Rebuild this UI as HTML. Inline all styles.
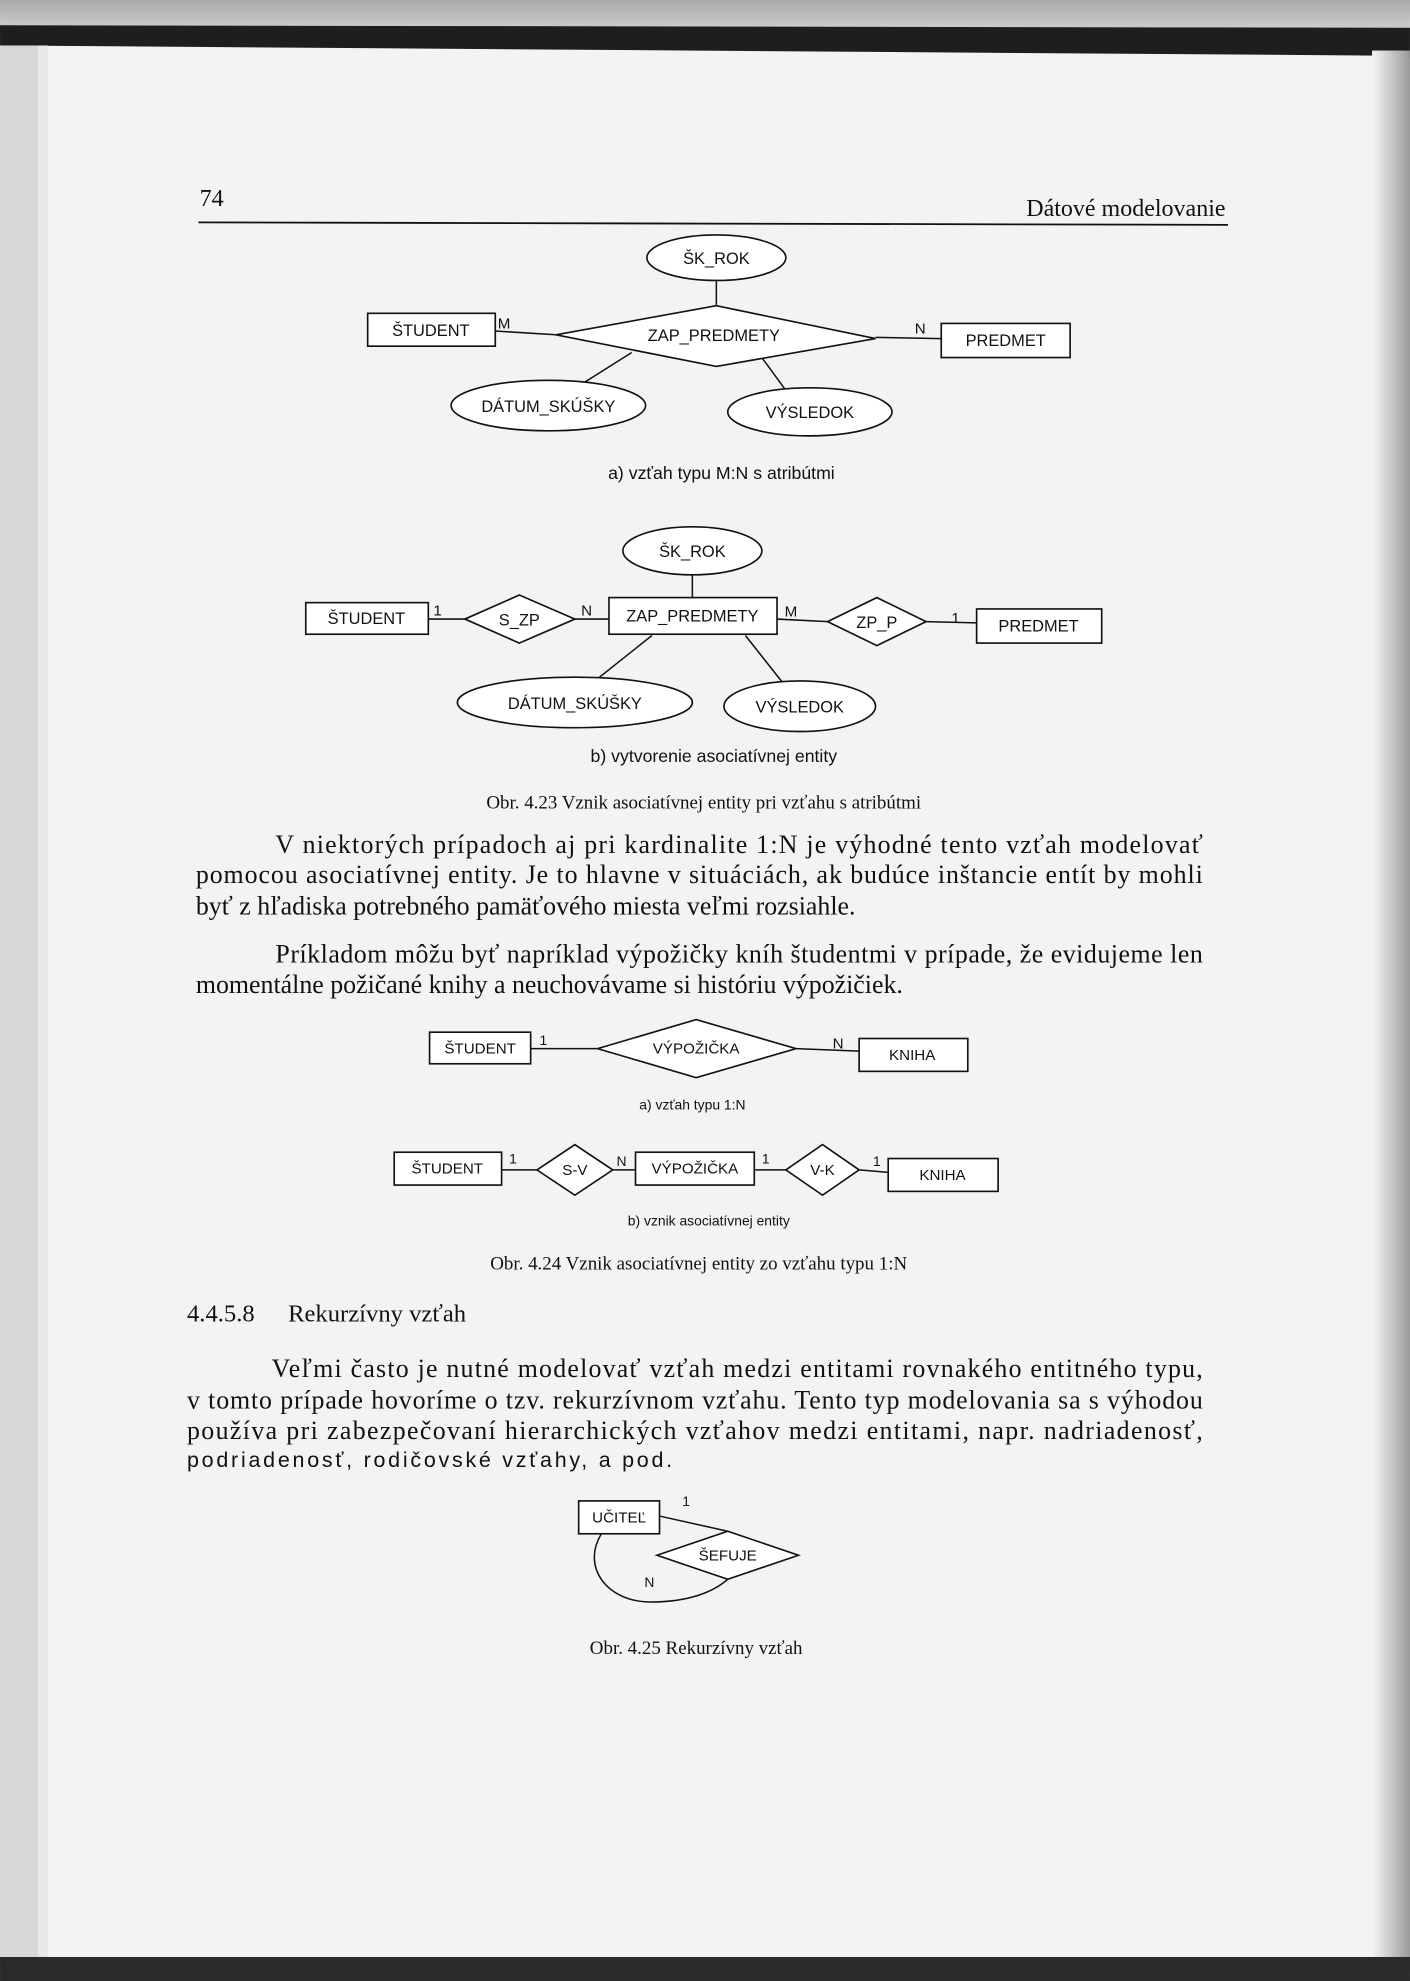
<!DOCTYPE html>
<html><head><meta charset="utf-8"><style>
html,body{margin:0;padding:0;background:#ddd}
svg{display:block}
.s{font-family:"Liberation Sans",sans-serif;fill:#111}
.r{font-family:"Liberation Serif",serif;fill:#111}
.sh{fill:#fff;stroke:#111;stroke-width:1.3}
.ln{stroke:#111;stroke-width:1.2;fill:none}
</style></head><body>
<svg width="1410" height="1981" viewBox="0 0 1116 1568" xmlns="http://www.w3.org/2000/svg">
<defs>
<linearGradient id="tg" x1="0" y1="0" x2="0" y2="1"><stop offset="0" stop-color="#a9a9a9"/><stop offset="1" stop-color="#cfcfcf"/></linearGradient>
<linearGradient id="rg" x1="0" y1="0" x2="1" y2="0"><stop offset="0" stop-color="#f4f4f4"/><stop offset="0.5" stop-color="#c8c8c8"/><stop offset="1" stop-color="#9a9a9a"/></linearGradient>
</defs>
<rect x="0" y="0" width="1116" height="1568" fill="#f3f3f3"/>
<rect x="0" y="0" width="1116" height="24" fill="url(#tg)"/>
<polygon points="0,20 1116,22 1116,46 1090,44 0,36" fill="#1e1e1e"/>
<rect x="0" y="36" width="30" height="1520" fill="#d8d8d8"/>
<rect x="30" y="36" width="8" height="1520" fill="#e8e8e8"/>
<rect x="1086" y="40" width="30" height="1520" fill="url(#rg)"/>
<rect x="0" y="1549" width="1116" height="19" fill="#2a2a2a"/>

<!-- header -->
<text class="r" x="158" y="163" font-size="19">74</text>
<text class="r" x="970" y="171" font-size="19" text-anchor="end">Dátové modelovanie</text>
<line x1="157" y1="176" x2="972" y2="178" stroke="#111" stroke-width="1.4"/>

<!-- diagram a -->
<line class="ln" x1="567" y1="222" x2="567" y2="242"/>
<line class="ln" x1="392" y1="262" x2="440" y2="265"/>
<line class="ln" x1="693" y1="267" x2="745" y2="268"/>
<line class="ln" x1="500" y1="279" x2="462" y2="303"/>
<line class="ln" x1="603" y1="283" x2="622" y2="309"/>
<ellipse class="sh" cx="567" cy="204" rx="55" ry="18"/>
<text class="s" x="567" y="209" font-size="13" text-anchor="middle">ŠK_ROK</text>
<rect class="sh" x="291" y="248" width="101" height="26"/>
<text class="s" x="341" y="266" font-size="13" text-anchor="middle">ŠTUDENT</text>
<text class="s" x="394" y="260" font-size="12">M</text>
<polygon class="sh" points="440,265 567,242 693,268 567,290"/>
<text class="s" x="565" y="270" font-size="13" text-anchor="middle">ZAP_PREDMETY</text>
<text class="s" x="724" y="264" font-size="12">N</text>
<rect class="sh" x="745" y="256" width="102" height="27"/>
<text class="s" x="796" y="274" font-size="13" text-anchor="middle">PREDMET</text>
<ellipse class="sh" cx="434" cy="321" rx="77" ry="20"/>
<text class="s" x="434" y="326" font-size="13" text-anchor="middle">DÁTUM_SKÚŠKY</text>
<ellipse class="sh" cx="641" cy="326" rx="65" ry="19"/>
<text class="s" x="641" y="331" font-size="13" text-anchor="middle">VÝSLEDOK</text>
<text class="s" x="571" y="379" font-size="14" text-anchor="middle">a) vzťah typu M:N s atribútmi</text>

<!-- diagram b -->
<line class="ln" x1="548" y1="455" x2="548" y2="473"/>
<line class="ln" x1="339" y1="490" x2="368" y2="490"/>
<line class="ln" x1="455" y1="490" x2="482" y2="490"/>
<line class="ln" x1="615" y1="490" x2="655" y2="492"/>
<line class="ln" x1="733" y1="492" x2="773" y2="493"/>
<line class="ln" x1="516" y1="503" x2="472" y2="538"/>
<line class="ln" x1="590" y1="503" x2="620" y2="541"/>
<ellipse class="sh" cx="548" cy="436" rx="55" ry="19"/>
<text class="s" x="548" y="441" font-size="13" text-anchor="middle">ŠK_ROK</text>
<rect class="sh" x="242" y="477" width="97" height="25"/>
<text class="s" x="290" y="494" font-size="13" text-anchor="middle">ŠTUDENT</text>
<text class="s" x="343" y="487" font-size="12">1</text>
<polygon class="sh" points="368,490 411,471 455,490 411,509"/>
<text class="s" x="411" y="495" font-size="13" text-anchor="middle">S_ZP</text>
<text class="s" x="460" y="487" font-size="12">N</text>
<rect class="sh" x="482" y="473" width="133" height="29"/>
<text class="s" x="548" y="492" font-size="13" text-anchor="middle">ZAP_PREDMETY</text>
<text class="s" x="621" y="488" font-size="12">M</text>
<polygon class="sh" points="655,492 694,473 733,492 694,511"/>
<text class="s" x="694" y="497" font-size="13" text-anchor="middle">ZP_P</text>
<text class="s" x="753" y="493" font-size="12">1</text>
<rect class="sh" x="773" y="482" width="99" height="27"/>
<text class="s" x="822" y="500" font-size="13" text-anchor="middle">PREDMET</text>
<ellipse class="sh" cx="455" cy="556" rx="93" ry="20"/>
<text class="s" x="455" y="561" font-size="13" text-anchor="middle">DÁTUM_SKÚŠKY</text>
<ellipse class="sh" cx="633" cy="559" rx="60" ry="20"/>
<text class="s" x="633" y="564" font-size="13" text-anchor="middle">VÝSLEDOK</text>
<text class="s" x="565" y="603" font-size="14" text-anchor="middle">b) vytvorenie asociatívnej entity</text>
<text class="r" x="557" y="640" font-size="15" text-anchor="middle">Obr. 4.23 Vznik asociatívnej entity pri vzťahu s atribútmi</text>

<!-- paragraphs -->
<g class="r" font-size="20.5">
<text x="218" y="675" textLength="734" lengthAdjust="spacing">V niektorých prípadoch aj pri kardinalite 1:N je výhodné tento vzťah modelovať</text>
<text x="155" y="699" textLength="797" lengthAdjust="spacing">pomocou asociatívnej entity. Je to hlavne v situáciách, ak budúce inštancie entít by mohli</text>
<text x="155" y="724">byť z hľadiska potrebného pamäťového miesta veľmi rozsiahle.</text>
<text x="218" y="762" textLength="734" lengthAdjust="spacing">Príkladom môžu byť napríklad výpožičky kníh študentmi v prípade, že evidujeme len</text>
<text x="155" y="786">momentálne požičané knihy a neuchovávame si históriu výpožičiek.</text>
</g>

<!-- diagram c -->
<line class="ln" x1="420" y1="830" x2="473" y2="830"/>
<line class="ln" x1="630" y1="830" x2="680" y2="832"/>
<rect class="sh" x="340" y="817" width="80" height="25"/>
<text class="s" x="380" y="834" font-size="12" text-anchor="middle">ŠTUDENT</text>
<text class="s" x="427" y="827" font-size="11">1</text>
<polygon class="sh" points="473,830 551,807 630,830 551,853"/>
<text class="s" x="551" y="834" font-size="12" text-anchor="middle">VÝPOŽIČKA</text>
<text class="s" x="659" y="830" font-size="12">N</text>
<rect class="sh" x="680" y="822" width="86" height="26"/>
<text class="s" x="722" y="839" font-size="12" text-anchor="middle">KNIHA</text>
<text class="s" x="548" y="878" font-size="11" text-anchor="middle">a) vzťah typu 1:N</text>

<line class="ln" x1="397" y1="926" x2="425" y2="926"/>
<line class="ln" x1="485" y1="926" x2="503" y2="926"/>
<line class="ln" x1="597" y1="926" x2="622" y2="926"/>
<line class="ln" x1="680" y1="926" x2="703" y2="928"/>
<rect class="sh" x="312" y="912" width="85" height="26"/>
<text class="s" x="354" y="929" font-size="12" text-anchor="middle">ŠTUDENT</text>
<text class="s" x="403" y="921" font-size="11">1</text>
<polygon class="sh" points="425,926 455,906 485,926 455,946"/>
<text class="s" x="455" y="930" font-size="12" text-anchor="middle">S-V</text>
<text class="s" x="488" y="923" font-size="11">N</text>
<rect class="sh" x="503" y="912" width="94" height="26"/>
<text class="s" x="550" y="929" font-size="12" text-anchor="middle">VÝPOŽIČKA</text>
<text class="s" x="603" y="921" font-size="11">1</text>
<polygon class="sh" points="622,926 651,906 680,926 651,946"/>
<text class="s" x="651" y="930" font-size="12" text-anchor="middle">V-K</text>
<text class="s" x="691" y="923" font-size="11">1</text>
<rect class="sh" x="703" y="917" width="87" height="26"/>
<text class="s" x="746" y="934" font-size="12" text-anchor="middle">KNIHA</text>
<text class="s" x="561" y="970" font-size="11" text-anchor="middle">b) vznik asociatívnej entity</text>
<text class="r" x="553" y="1005" font-size="15" text-anchor="middle">Obr. 4.24 Vznik asociatívnej entity zo vzťahu typu 1:N</text>

<!-- heading -->
<text class="r" x="148" y="1046" font-size="19.5">4.4.5.8</text>
<text class="r" x="228" y="1046" font-size="19.5">Rekurzívny vzťah</text>
<g class="r" font-size="20.5">
<text x="215" y="1090" textLength="737" lengthAdjust="spacing">Veľmi často je nutné modelovať vzťah medzi entitami rovnakého entitného typu,</text>
<text x="148" y="1115" textLength="804" lengthAdjust="spacing">v tomto prípade hovoríme o tzv. rekurzívnom vzťahu. Tento typ modelovania sa s výhodou</text>
<text x="148" y="1139" textLength="804" lengthAdjust="spacing">používa pri zabezpečovaní hierarchických vzťahov medzi entitami, napr. nadriadenosť,</text>
<text x="148" y="1161" font-family="Liberation Sans" font-size="17" textLength="384" lengthAdjust="spacing">podriadenosť, rodičovské vzťahy, a pod.</text>
</g>

<!-- diagram d -->
<path class="ln" d="M522,1200 L576,1212"/>
<path class="ln" d="M476,1214 C460,1240 480,1268 515,1268 C545,1268 565,1260 576,1250"/>
<rect class="sh" x="458" y="1188" width="64" height="26"/>
<text class="s" x="490" y="1205" font-size="12" text-anchor="middle">UČITEĽ</text>
<text class="s" x="540" y="1192" font-size="11">1</text>
<polygon class="sh" points="520,1231 576,1212 632,1231 576,1250"/>
<text class="s" x="576" y="1235" font-size="12" text-anchor="middle">ŠEFUJE</text>
<text class="s" x="510" y="1256" font-size="11">N</text>
<text class="r" x="551" y="1309" font-size="15" text-anchor="middle">Obr. 4.25 Rekurzívny vzťah</text>
</svg>
</body></html>
